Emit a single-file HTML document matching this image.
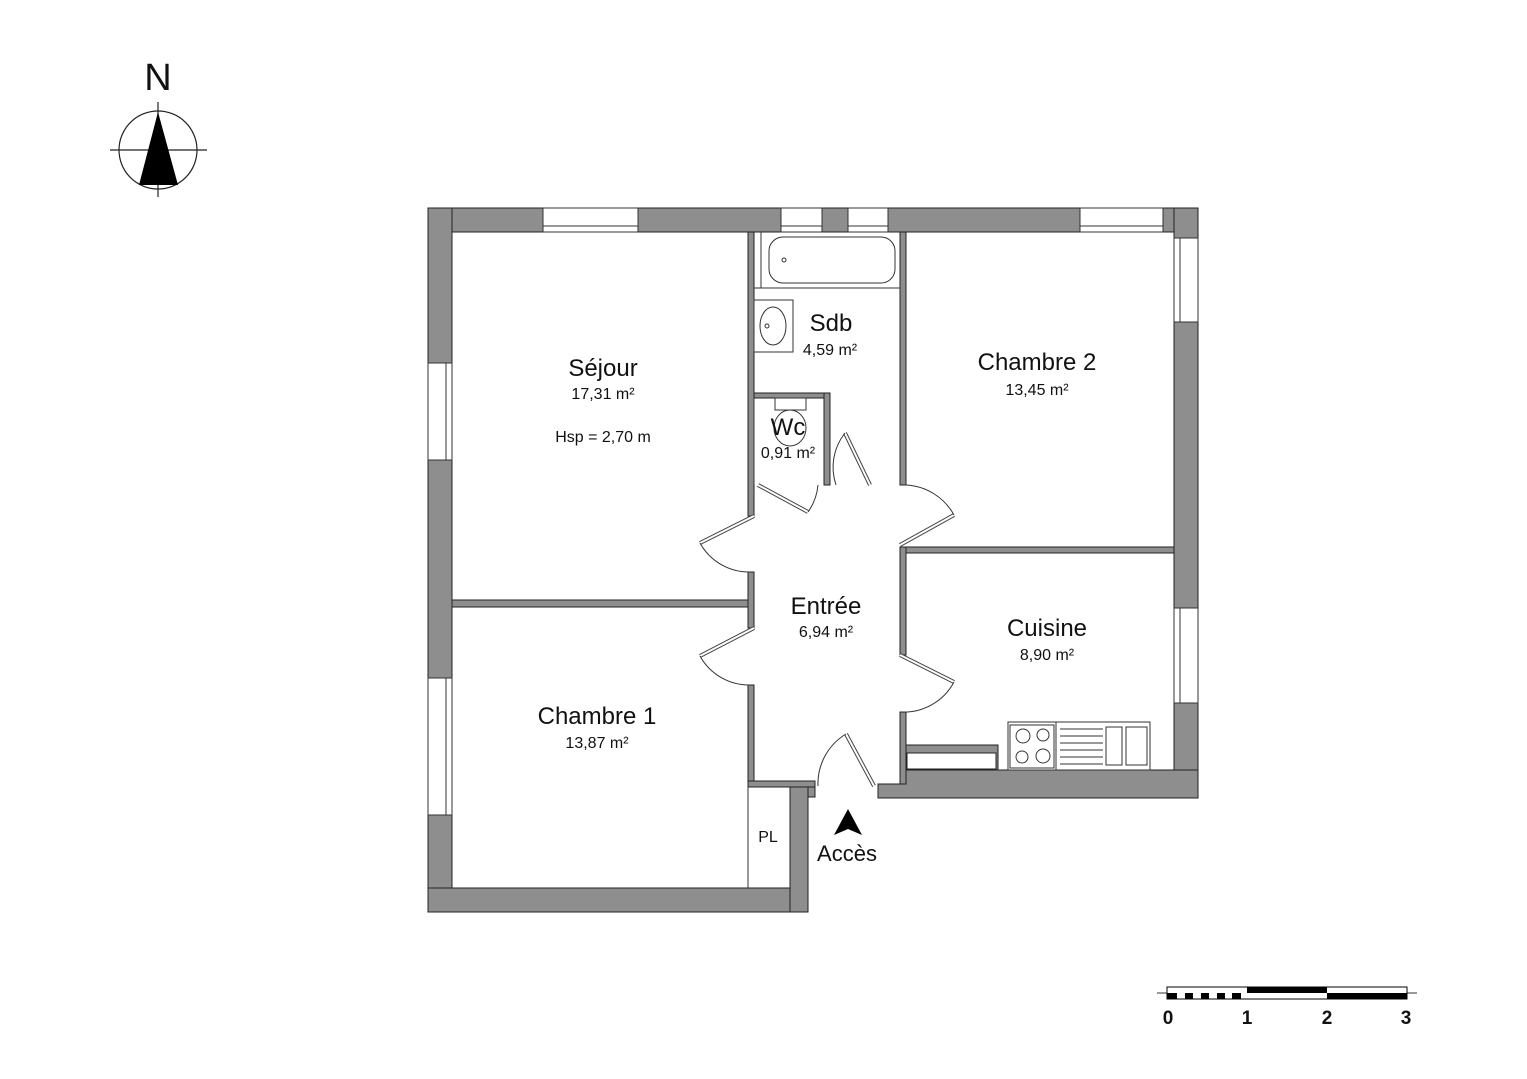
<!DOCTYPE html>
<html><head><meta charset="utf-8"><style>
html,body{margin:0;padding:0;background:#fff;}
svg{display:block;}
text{font-family:"Liberation Sans",Arial,sans-serif;fill:#111;}
</style></head><body>
<svg width="1527" height="1079" viewBox="0 0 1527 1079" xmlns="http://www.w3.org/2000/svg">
<text x="158" y="90" font-size="38" text-anchor="middle">N</text>
<circle cx="158" cy="150" r="39" fill="none" stroke="#222" stroke-width="1.2"/>
<line x1="110" y1="150" x2="207" y2="150" stroke="#222" stroke-width="1.2"/>
<line x1="158" y1="102" x2="158" y2="197" stroke="#222" stroke-width="1.2"/>
<polygon points="158,112 139,185 178,185" fill="#000"/>

<g fill="#8e8e8e" stroke="#222" stroke-width="1">
<rect x="428" y="208" width="115" height="24"/>
<rect x="638" y="208" width="143" height="24"/>
<rect x="822" y="208" width="26" height="24"/>
<rect x="888" y="208" width="192" height="24"/>
<rect x="1163" y="208" width="35" height="24"/>
<rect x="428" y="208" width="24" height="155"/>
<rect x="428" y="460" width="24" height="218"/>
<rect x="428" y="815" width="24" height="97"/>
<rect x="428" y="888" width="380" height="24"/>
<rect x="790" y="787" width="18" height="125"/>
<rect x="808" y="787" width="7" height="10"/>
<rect x="1174" y="208" width="24" height="30"/>
<rect x="1174" y="322" width="24" height="286"/>
<rect x="1174" y="703" width="24" height="95"/>
<path d="M900 770 L1198 770 L1198 798 L878 798 L878 784 L900 784 Z"/>
<rect x="748" y="232" width="6" height="284"/>
<rect x="452" y="600" width="296" height="7"/>
<rect x="748" y="572" width="6" height="56"/>
<rect x="748" y="685" width="6" height="102"/>
<rect x="748" y="781" width="67" height="6"/>
<rect x="900" y="232" width="6" height="253"/>
<rect x="900" y="547" width="274" height="6"/>
<rect x="900" y="547" width="6" height="108"/>
<rect x="900" y="712" width="6" height="72"/>
<rect x="754" y="393" width="76" height="5"/>
<rect x="824" y="393" width="6" height="92"/>
<rect x="906" y="745" width="92" height="25"/>
</g>
<rect x="907" y="753" width="89" height="16" fill="#fff" stroke="#222" stroke-width="1"/>

<g fill="#fff" stroke="#333" stroke-width="1">
<rect x="543" y="208" width="95" height="24"/><line x1="543" y1="226" x2="638" y2="226"/>
<rect x="781" y="208" width="41" height="24"/><line x1="781" y1="226" x2="822" y2="226"/>
<rect x="848" y="208" width="40" height="24"/><line x1="848" y1="226" x2="888" y2="226"/>
<rect x="1080" y="208" width="83" height="24"/><line x1="1080" y1="226" x2="1163" y2="226"/>
<rect x="428" y="363" width="24" height="97"/><line x1="446" y1="363" x2="446" y2="460"/>
<rect x="428" y="678" width="24" height="137"/><line x1="446" y1="678" x2="446" y2="815"/>
<rect x="1174" y="238" width="24" height="84"/><line x1="1180" y1="238" x2="1180" y2="322"/>
<rect x="1174" y="608" width="24" height="95"/><line x1="1180" y1="608" x2="1180" y2="703"/>
</g>

<g fill="none" stroke="#333" stroke-width="1">
<line x1="754" y1="288" x2="900" y2="288"/>
<line x1="761" y1="232" x2="761" y2="288"/>
<rect x="769" y="237" width="126" height="46" rx="14"/>
<circle cx="784" cy="260" r="2"/>
<rect x="754" y="300" width="39" height="52"/>
<ellipse cx="773" cy="326" rx="13" ry="19"/>
<circle cx="767" cy="326" r="2"/>
<rect x="775" y="398" width="31" height="12"/>
<ellipse cx="790" cy="428" rx="16" ry="18"/>
<line x1="754" y1="398" x2="754" y2="485"/>
<rect x="1008" y="722" width="142" height="48"/>
<rect x="1010" y="725" width="44" height="43"/>
<circle cx="1023" cy="736" r="7"/><circle cx="1043" cy="735" r="6"/>
<circle cx="1022" cy="757" r="6"/><circle cx="1043" cy="756" r="7"/>
<line x1="1056" y1="722" x2="1056" y2="770"/>
<line x1="1060" y1="729" x2="1103" y2="729"/><line x1="1060" y1="736" x2="1103" y2="736"/>
<line x1="1060" y1="743" x2="1103" y2="743"/><line x1="1060" y1="750" x2="1103" y2="750"/>
<line x1="1060" y1="757" x2="1103" y2="757"/><line x1="1060" y1="764" x2="1103" y2="764"/>
<rect x="1106" y="727" width="16" height="38"/><rect x="1126" y="727" width="21" height="38"/>
<line x1="748" y1="787" x2="748" y2="888"/>
<path d="M754 516 L700 543" stroke-width="4" stroke="#444"/><path d="M754 516 L700 543" stroke-width="2" stroke="#fff"/>
<path d="M700 543 A56 56 0 0 0 750 572"/>
<path d="M754 628 L700 656" stroke-width="4" stroke="#444"/><path d="M754 628 L700 656" stroke-width="2" stroke="#fff"/>
<path d="M700 656 A56 56 0 0 0 750 685"/>
<path d="M900 655 L954 682" stroke-width="4" stroke="#444"/><path d="M900 655 L954 682" stroke-width="2" stroke="#fff"/>
<path d="M900 712 A57 57 0 0 0 954 682"/>
<path d="M900 545 L954 515" stroke-width="4" stroke="#444"/><path d="M900 545 L954 515" stroke-width="2" stroke="#fff"/>
<path d="M906 485 A58 58 0 0 1 954 515"/>
<path d="M870 485 L845 433" stroke-width="4" stroke="#444"/><path d="M870 485 L845 433" stroke-width="2" stroke="#fff"/>
<path d="M845 433 A55 55 0 0 0 836 485"/>
<path d="M758 485 L808 512" stroke-width="4" stroke="#444"/><path d="M758 485 L808 512" stroke-width="2" stroke="#fff"/>
<path d="M808 512 A55 55 0 0 0 818 485"/>
<path d="M874 786 L846 734" stroke-width="4" stroke="#444"/><path d="M874 786 L846 734" stroke-width="2" stroke="#fff"/>
<path d="M846 734 A58 58 0 0 0 818 786"/>
</g>

<g text-anchor="middle">
<text x="603" y="376" font-size="24">Séjour</text>
<text x="603" y="399" font-size="16">17,31  m²</text>
<text x="603" y="442" font-size="16">Hsp = 2,70 m</text>
<text x="831" y="331" font-size="24">Sdb</text>
<text x="830" y="355" font-size="16">4,59  m²</text>
<text x="1037" y="370" font-size="24">Chambre 2</text>
<text x="1037" y="395" font-size="16">13,45  m²</text>
<text x="788" y="435" font-size="24">Wc</text>
<text x="788" y="458" font-size="16">0,91  m²</text>
<text x="826" y="614" font-size="24">Entrée</text>
<text x="826" y="637" font-size="16">6,94  m²</text>
<text x="1047" y="636" font-size="24">Cuisine</text>
<text x="1047" y="660" font-size="16">8,90  m²</text>
<text x="597" y="724" font-size="24">Chambre 1</text>
<text x="597" y="748" font-size="16">13,87  m²</text>
<text x="768" y="842" font-size="16">PL</text>
<text x="847" y="861" font-size="22">Accès</text>
</g>
<polygon points="848,809 834,835 848,829 862,835" fill="#000"/>

<line x1="1157" y1="993" x2="1417" y2="993" stroke="#333"/>
<rect x="1167" y="987" width="240" height="12" fill="#fff" stroke="#000"/>
<rect x="1247" y="987" width="80" height="6" fill="#000"/>
<rect x="1327" y="993" width="80" height="6" fill="#000"/>
<g fill="#000">
<rect x="1167" y="993" width="10" height="6"/><rect x="1185" y="993" width="8" height="6"/>
<rect x="1201" y="993" width="8" height="6"/><rect x="1217" y="993" width="8" height="6"/>
<rect x="1232" y="993" width="9" height="6"/>
</g>
<g font-size="19" font-weight="bold" text-anchor="middle">
<text x="1168" y="1024">0</text><text x="1247" y="1024">1</text>
<text x="1327" y="1024">2</text><text x="1406" y="1024">3</text>
</g>
</svg>
</body></html>
